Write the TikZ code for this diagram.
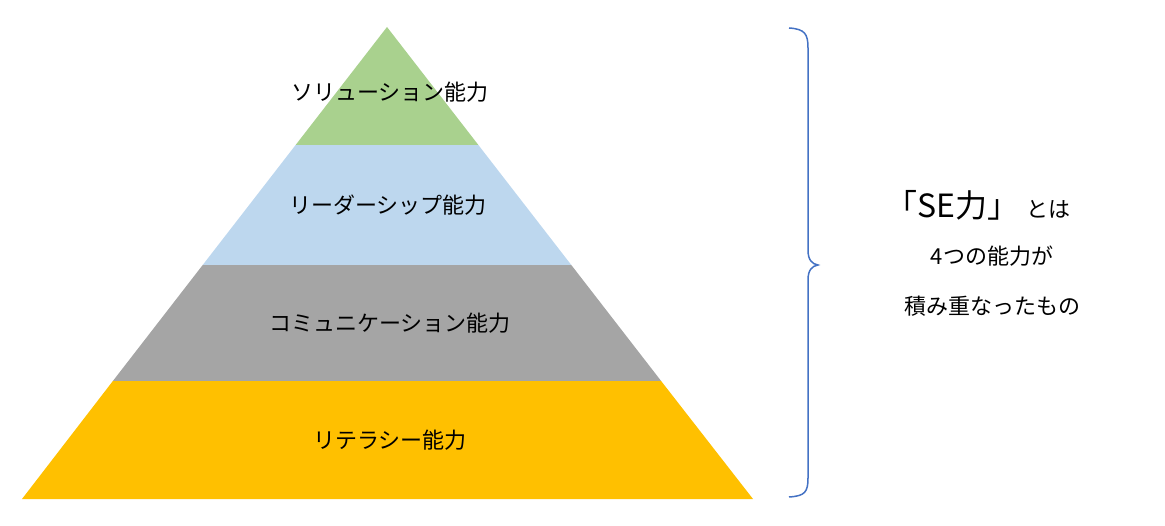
\documentclass[tikz,border=0pt]{standalone}
\usepackage{fontspec}
\newfontfamily\jp{Noto Sans CJK JP}
\definecolor{solgreen}{HTML}{A9D18E}
\definecolor{leadblue}{HTML}{BDD7EE}
\definecolor{commgray}{HTML}{A5A5A5}
\definecolor{litgold}{HTML}{FFC000}
\definecolor{bracecol}{HTML}{4472C4}
\tikzset{
	layerlabel/.style={font=\jp\fontsize{22}{26}\selectfont},
	sidelabel/.style={font=\jp\fontsize{22}{26}\selectfont}
}
\begin{document}
\begin{tikzpicture}[x=1pt,y=-1pt]
\useasboundingbox (0,0) rectangle (1165,526);
% half width of the pyramid at height y
\def\hw#1{(#1-27)/472*365.5}
\fill[litgold] ({387-\hw{381}},381) -- ({387+\hw{381}},381) -- (753,499) -- (22,499) -- cycle;
\fill[commgray] ({387-\hw{265}},265) -- ({387+\hw{265}},265) -- ({387+\hw{381}},381) -- ({387-\hw{381}},381) -- cycle;
\fill[leadblue] ({387-\hw{145}},145) -- ({387+\hw{145}},145) -- ({387+\hw{265}},265) -- ({387-\hw{265}},265) -- cycle;
\fill[solgreen] (387,27) -- ({387+\hw{145}},145) -- ({387-\hw{145}},145) -- cycle;
\node[layerlabel] (sol) at (390,92) {ソリューション能力};
\node[layerlabel] (lead) at (388,205) {リーダーシップ能力};
\node[layerlabel] (comm) at (390,323) {コミュニケーション能力};
\node[layerlabel] (lit) at (390,440) {リテラシー能力};
% brace
\draw[bracecol,line width=1.5pt] (789,28) .. controls (805,29) and (808,34) .. (808,48)
	-- (808,250) .. controls (808,260) and (812,264) .. (818,265)
	.. controls (812,266) and (808,270) .. (808,280)
	-- (808,478) .. controls (808,492) and (805,496) .. (789,497);
\node[font=\jp\fontsize{32}{36}\selectfont,anchor=base west] (se) at (882,218) {「SE力」};
\node[sidelabel,anchor=base west] (toha) at (se.base east) {とは};
\node[sidelabel] (four) at (992,256) {4つの能力が};
\node[sidelabel] (stack) at (992,306) {積み重なったもの};
\end{tikzpicture}
\end{document}
